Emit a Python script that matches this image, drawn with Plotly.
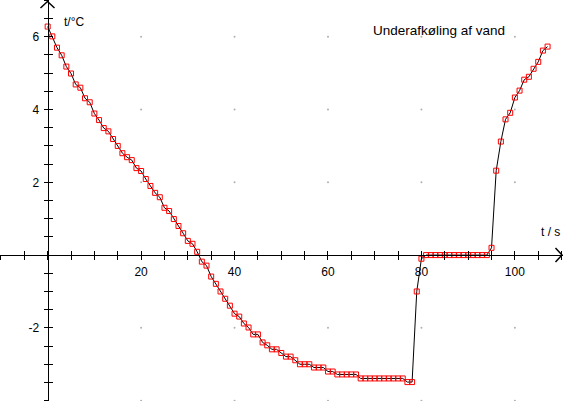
import plotly.graph_objects as go
import numpy as np

# Measured temperature (deg C), one reading per second
time_s = list(range(0, 108))
temp_c = [
    6.28, 6.01, 5.70, 5.49, 5.18, 4.99, 4.69, 4.60, 4.31, 4.20,
    3.89, 3.71, 3.49, 3.40, 3.19, 3.00, 2.80, 2.69, 2.61, 2.39,
    2.31, 2.09, 1.90, 1.71, 1.59, 1.30, 1.21, 0.99, 0.80, 0.60,
    0.39, 0.31, 0.09, -0.18, -0.29, -0.59, -0.79, -1.00, -1.20, -1.39,
    -1.61, -1.69, -1.88, -1.99, -2.18, -2.18, -2.40, -2.48, -2.59, -2.59,
    -2.69, -2.79, -2.79, -2.89, -3.00, -3.00, -3.00, -3.09, -3.09, -3.09,
    -3.20, -3.20, -3.28, -3.28, -3.28, -3.28, -3.28, -3.39, -3.39, -3.39,
    -3.39, -3.39, -3.39, -3.39, -3.39, -3.39, -3.39, -3.49, -3.49, -1.00,
    -0.10, 0.00, 0.00, 0.00, 0.00, 0.00, 0.00, 0.00, 0.00, 0.00,
    0.00, 0.00, 0.00, 0.00, 0.00, 0.20, 2.32, 3.12, 3.73, 3.91,
    4.33, 4.52, 4.82, 4.90, 5.12, 5.31, 5.62, 5.73,
]

x_ticks = [20, 40, 60, 80, 100]
y_ticks = [6, 4, 2, -2, -4]
y_ticktext = ["6", "4", "2", "-2", "-4"]

title_text = "Underafkøling af vand"
x_label = "t / s"
y_label = "t/°C"

W, H = 563, 401
x_range = [-10.2, 110.3]
y_range = [-4.01, 7.01]
x0_paper = (0 - x_range[0]) / (x_range[1] - x_range[0])
y0_paper = (0 - y_range[0]) / (y_range[1] - y_range[0])
font = dict(family="Liberation Sans, Arial, sans-serif", size=12, color="black")

fig = go.Figure()

# faint dots where the major ticks meet
gx, gy = np.meshgrid(x_ticks, [v for v in y_ticks if v > y_range[0]])
fig.add_trace(go.Scatter(
    x=gx.flatten(), y=gy.flatten(), mode="markers",
    marker=dict(size=2, color="#b0b0b0"), hoverinfo="skip", showlegend=False,
))

fig.add_trace(go.Scatter(
    x=time_s, y=temp_c, mode="lines+markers",
    line=dict(color="black", width=1),
    marker=dict(symbol="square-open", size=5, color="red", line=dict(width=1)),
    showlegend=False, cliponaxis=False,
))


def px_to_data(px, py):
    dx = x_range[0] + px / W * (x_range[1] - x_range[0])
    dy = y_range[1] - py / H * (y_range[1] - y_range[0])
    return dx, dy


# arrow heads at the axis ends, drawn as open chevrons (screen pixel points)
arrow_px = [
    [(555.5, 248), (562, 255), (555.5, 262)],
    [(40.5, 8), (47.5, 1.5), (54.5, 8)],
]
ax_x, ax_y = [], []
for chevron in arrow_px:
    for p in chevron:
        dx, dy = px_to_data(*p)
        ax_x.append(dx)
        ax_y.append(dy)
    ax_x.append(None)
    ax_y.append(None)

common_x = dict(range=x_range, anchor="free", position=y0_paper, showgrid=False,
                zeroline=False, showline=True, linecolor="black", linewidth=1,
                tickvals=x_ticks, ticklen=4, tickcolor="black", tickwidth=1,
                automargin=False)
common_y = dict(range=y_range, anchor="free", position=x0_paper, showgrid=False,
                zeroline=False, showline=True, linecolor="black", linewidth=1,
                tickvals=y_ticks, ticklen=4, tickcolor="black", tickwidth=1,
                automargin=False)

fig.update_layout(
    width=W, height=H,
    margin=dict(l=0, r=0, t=0, b=0, autoexpand=False),
    paper_bgcolor="white", plot_bgcolor="white",
    font=font,
    xaxis=dict(**common_x, ticks="outside", showticklabels=True,
               ticktext=[str(v) for v in x_ticks], ticklabelstandoff=2,
               minor=dict(dtick=5, ticks="outside", ticklen=4, tickcolor="black")),
    xaxis2=dict(**common_x, overlaying="x", ticks="inside", showticklabels=False,
                minor=dict(dtick=5, ticks="inside", ticklen=4, tickcolor="black")),
    yaxis=dict(**common_y, ticks="outside", showticklabels=True,
               ticktext=y_ticktext, ticklabelstandoff=2,
               minor=dict(dtick=0.5, ticks="outside", ticklen=4, tickcolor="black")),
    yaxis2=dict(**common_y, overlaying="y", ticks="inside", showticklabels=False,
                minor=dict(dtick=0.5, ticks="inside", ticklen=4, tickcolor="black")),
    annotations=[
        dict(text=title_text, xref="paper", yref="paper", x=371 / W, y=1 - 30 / H,
             xanchor="left", yanchor="middle", showarrow=False,
             font=dict(font, size=13.5)),
        dict(text=y_label, xref="paper", yref="paper", x=62 / W, y=1 - 22 / H,
             xanchor="left", yanchor="middle", showarrow=False, font=font),
        dict(text=x_label, xref="paper", yref="paper", x=562 / W, y=1 - 232 / H,
             xanchor="right", yanchor="middle", showarrow=False, font=font),
    ],
)

# arrow chevrons on the overlay axes so they sit above everything else
fig.add_trace(go.Scatter(
    x=ax_x, y=ax_y, xaxis="x2", yaxis="y2", mode="lines",
    line=dict(color="black", width=1.5),
    hoverinfo="skip", showlegend=False, cliponaxis=False,
))

# drop the browser's default page margin so the chart sits at (0, 0)
fig.write_html("out.html", config={"displayModeBar": False},
               post_script="document.body.style.margin='0';")
